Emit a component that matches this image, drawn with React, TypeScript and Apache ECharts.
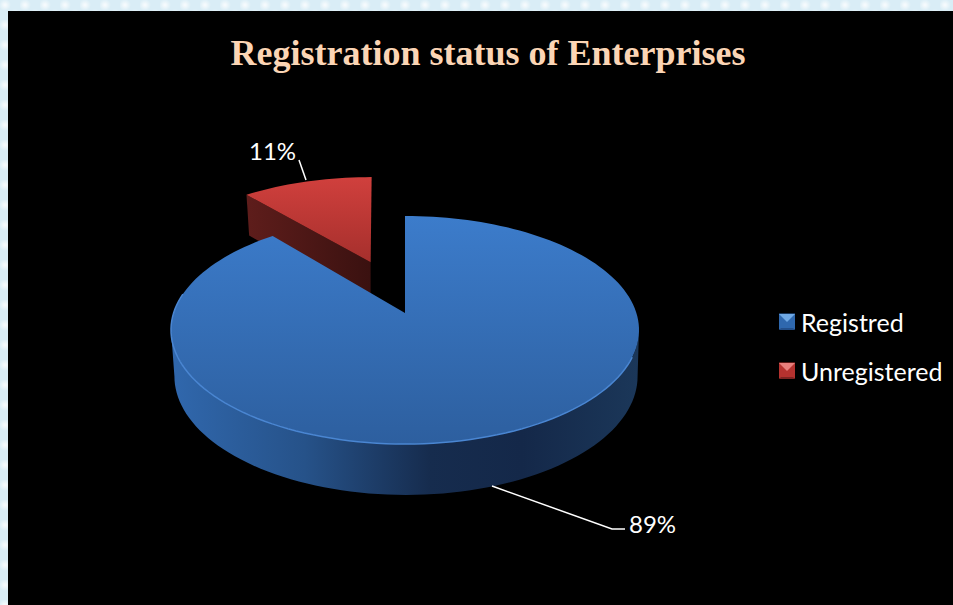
import React, { useEffect, useRef } from "react";
import * as echarts from "echarts";

const categories = ["Registred", "Unregistered"];
const values = [89, 11];
const explode = [0, 0.52];
const titleText = "Registration status of Enterprises";

const TOP = { x0: 405, y0: 313, a: 231.4, b: 111.5, k: 0.149 };
const LOW = { x0: 406, y0: 358.6, a: 229, b: 116, k: 0.149 };
const LABEL_FONT = "24px Lato, sans-serif";
const SILHOUETTE = (Math.asin(TOP.k) * 180) / Math.PI;

type Face = typeof TOP;
const total = values.reduce((s, v) => s + v, 0);

function project(f: Face, u: number, v: number): number[] {
  const w = 1 - f.k * v;
  return [f.x0 + (f.a * u) / w, f.y0 + (f.b * v) / w];
}
function rim(f: Face, deg: number, du = 0, dv = 0): number[] {
  const t = (deg * Math.PI) / 180;
  return project(f, Math.sin(t) + du, -Math.cos(t) + dv);
}
function arc(f: Face, from: number, to: number, du = 0, dv = 0): number[][] {
  const pts: number[][] = [];
  const n = Math.max(2, Math.ceil(Math.abs(to - from) / 2));
  for (let i = 0; i <= n; i++) pts.push(rim(f, from + ((to - from) * i) / n, du, dv));
  return pts;
}
const vGrad = (y1: number, y2: number, stops: string[]) =>
  new echarts.graphic.LinearGradient(0, y1, 0, y2, stops.map((color, i) => ({ offset: i / (stops.length - 1), color })), true);
const hGrad = (x1: number, x2: number, stops: [number, string][]) =>
  new echarts.graphic.LinearGradient(x1, 0, x2, 0, stops.map(([offset, color]) => ({ offset, color })), true);

function slice(index: number) {
  const start = (values.slice(0, index).reduce((s, v) => s + v, 0) / total) * 360;
  return (_: any, api: any) => {
    const sweep = (api.value(0) / total) * 360;
    const end = start + sweep;
    const mid = ((start + end) / 2) * (Math.PI / 180);
    const du = Math.sin(mid) * explode[index];
    const dv = -Math.cos(mid) * explode[index];
    const children: any[] = [];
    if (index === 0) {
      const from = 90 + SILHOUETTE;
      const to = 270 - SILHOUETTE;
      children.push({
        type: "polygon",
        shape: { points: [...arc(TOP, from, to), ...arc(LOW, to, from)] },
        style: {
          fill: hGrad(175, 638, [
            [0, "#3067ac"],
            [0.28, "#265289"],
            [0.55, "#162c4e"],
            [0.75, "#142849"],
            [1, "#1b3759"],
          ]),
        },
      });
      children.push({
        type: "polygon",
        shape: { points: [project(TOP, du, dv), ...arc(TOP, start, end, du, dv)] },
        style: { fill: vGrad(216, 444, ["#3c7ccb", "#2d5f9f"]) },
      });
      children.push({
        type: "polyline",
        shape: { points: arc(TOP, 112, 280) },
        style: { stroke: "#4a86d2", lineWidth: 1.5, fill: "none" },
      });
    } else {
      // the exploded slice's straight edge at its end angle stays upright in the picture
      const edge = rim(TOP, end, du, dv);
      const apexTop = [edge[0] - 1, project(TOP, du, dv)[1]];
      const apexLow = [edge[0] - 1, project(LOW, du, dv)[1]];
      children.push({
        type: "polygon",
        shape: { points: [apexTop, rim(TOP, start, du, dv), rim(LOW, start, du, dv), apexLow] },
        style: {
          fill: hGrad(248, 370, [
            [0, "#5e1d1b"],
            [1, "#3a1110"],
          ]),
        },
      });
      children.push({
        type: "polygon",
        shape: { points: [apexTop, ...arc(TOP, start, end, du, dv)] },
        style: { fill: vGrad(176, 264, ["#d1403d", "#a52f2c"]) },
      });
    }
    return { type: "group", children };
  };
}

function labels(params: any, api: any) {
  const layouts = [
    { x: 629, y: 523, line: [[492, 486], [612, 529], [625, 529]] },
    { x: 249, y: 150, line: [[299, 160], [306, 180]] },
  ];
  const l = layouts[params.dataIndex];
  return {
    type: "group",
    children: [
      { type: "polyline", shape: { points: l.line }, style: { stroke: "#fff", lineWidth: 1.5, fill: "none" } },
      {
        type: "text",
        style: { text: `${api.value(0)}%`, x: l.x, y: l.y, fill: "#fff", font: LABEL_FONT, textAlign: "left", textVerticalAlign: "middle" },
      },
    ],
  };
}

function bevel(y: number, light: string, dark: string) {
  const x1 = 779, x2 = 795, y2 = y + 16;
  return [
    { type: "polygon", z: 20, shape: { points: [[x1, y], [x2, y], [x1 + 8, y + 8]] }, style: { fill: light } },
    { type: "polygon", z: 20, shape: { points: [[x1, y2], [x2, y2], [x2 - 2, y2 - 2], [x1 + 2, y2 - 2]] }, style: { fill: dark } },
  ];
}

export default function App() {
  const ref = useRef<HTMLDivElement>(null);
  useEffect(() => {
    document.body.style.margin = "0";
    const chart = echarts.init(ref.current!, undefined, { renderer: "svg" });
    chart.setOption({
      animation: false,
      backgroundColor: "transparent",
      title: {
        text: titleText,
        left: 483,
        top: 30,
        textAlign: "center",
        textStyle: { fontFamily: "Liberation Serif", fontWeight: "bold", fontSize: 36, color: "#fbd5b5" },
      },
      legend: {
        data: categories,
        orient: "vertical",
        left: 779,
        top: 309,
        padding: 0,
        icon: "rect",
        itemWidth: 16,
        itemHeight: 16,
        itemGap: 24,
        selectedMode: false,
        textStyle: { color: "#fff", fontFamily: "Lato", fontSize: 25, padding: [0, 0, 0, 1] },
      },
      graphic: [
        { type: "rect", z: -10, shape: { x: 8, y: 11, width: 945, height: 594 }, style: { fill: "#000" } },
        ...bevel(314, "#6fa8e4", "#234f8a"),
        ...bevel(363, "#e87f7c", "#7e2422"),
      ],
      series: [
        { type: "custom", name: categories[0], coordinateSystem: "none", z: 3, itemStyle: { color: "#2f68ae" }, data: [[values[0]]], renderItem: slice(0), silent: true },
        { type: "custom", name: categories[1], coordinateSystem: "none", z: 2, itemStyle: { color: "#b5322f" }, data: [[values[1]]], renderItem: slice(1), silent: true },
        { type: "custom", name: "labels", coordinateSystem: "none", z: 5, data: values.map((v) => [v]), renderItem: labels, silent: true },
      ],
    });
    return () => chart.dispose();
  }, []);
  return (
    <div
      style={{
        width: 953,
        height: 605,
        backgroundColor: "#d9edf6",
        backgroundImage:
          "radial-gradient(circle at 5px 5px, rgba(255,255,255,0.85) 0, transparent 6px), radial-gradient(circle at 15px 15px, rgba(255,255,255,0.85) 0, transparent 6px)",
        backgroundSize: "20px 20px",
      }}
    >
      <div ref={ref} style={{ width: 953, height: 605 }} />
    </div>
  );
}
